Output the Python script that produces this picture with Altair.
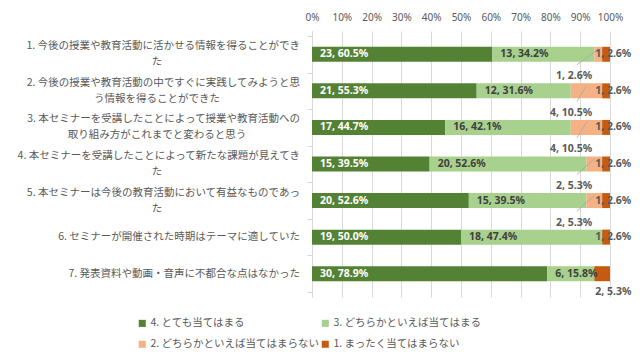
import altair as alt
import pandas as pd

# ---- data ----
cat_line1 = [
    "1. 今後の授業や教育活動に活かせる情報を得ることができ",
    "2. 今後の授業や教育活動の中ですぐに実践してみようと思",
    "3. 本セミナーを受講したことによって授業や教育活動への",
    "4. 本セミナーを受講したことによって新たな課題が見えてき",
    "5. 本セミナーは今後の教育活動において有益なものであっ",
    "6. セミナーが開催された時期はテーマに適していた",
    "7. 発表資料や動画・音声に不都合な点はなかった",
]
cat_line2 = ["た", "う情報を得ることができた", "取り組み方がこれまでと変わると思う", "た", "た", "", ""]

levels = ["4. とても当てはまる", "3. どちらかといえば当てはまる",
          "2. どちらかといえば当てはまらない", "1. まったく当てはまらない"]
colors = ["#548235", "#a9d18e", "#f4b183", "#c55a11"]

n4 = [23, 21, 17, 15, 20, 19, 30]
n3 = [13, 12, 16, 20, 15, 18, 6]
n2 = [1, 4, 4, 2, 2, 0, 0]
n1 = [1, 1, 1, 1, 1, 1, 2]

x_ticks = [0, 10, 20, 30, 40, 50, 60, 70, 80, 90, 100]

# ---- build tables ----
rows = []
for i in range(len(cat_line1)):
    counts = [n4[i], n3[i], n2[i], n1[i]]
    total = sum(counts)
    cum = 0.0
    for k, (lvl_name, n) in enumerate(zip(levels, counts)):
        pct = n / total * 100
        if k == 2:
            pos = "out2" if n > 0 else "none"
        elif k == 3:
            pos = "in1" if n < 2 else "out1"
        else:
            pos = "in"
        rows.append(dict(idx=i, level=lvl_name, lvl=4 - k, n=n, start=cum, end=cum + pct,
                         mid=cum + pct / 2, label=f"{n}, {pct:.1f}%", pos=pos))
        cum += pct
df = pd.DataFrame(rows)

lab = pd.DataFrame(dict(idx=list(range(len(cat_line1))), l1=cat_line1, l2=cat_line2))
lab["two"] = lab["l2"] != ""

FONT_JP = "Noto Sans CJK JP"
FONT_NUM = "Noto Sans"
GREY = "#595959"
JP_SIZE = 10.5

yscale = alt.Scale(domain=[-0.5, 6.5], reverse=True, nice=False, zero=False)
xscale = alt.Scale(domain=[0, 100], nice=False)

xaxis = alt.Axis(orient="top", values=x_ticks, labelExpr="datum.value + '%'",
                 domain=False, ticks=False, grid=True, gridColor="#d9d9d9",
                 labelColor=GREY, labelFont=FONT_NUM, labelFontSize=10,
                 labelPadding=9, labelOverlap=False, labelFlush=False, title=None)
yaxis = alt.Axis(values=[-0.5 + j for j in range(8)], labels=False, ticks=True,
                 tickSize=5, tickColor="#d9d9d9", domainColor="#d9d9d9",
                 grid=False, title=None)

def X(field):
    return alt.X(f"{field}:Q", scale=xscale, axis=xaxis)

def Y(field):
    return alt.Y(f"{field}:Q", scale=yscale, axis=yaxis)

base = alt.Chart(df)

bars = base.transform_filter("datum.n > 0").mark_bar(size=15).encode(
    x=X("start"),
    x2="end:Q",
    y=Y("idx"),
    color=alt.Color("level:N", scale=alt.Scale(domain=levels, range=colors),
                    legend=alt.Legend(title=None, orient="none", legendX=-175, legendY=287,
                                      columns=2, direction="horizontal",
                                      symbolType="square", symbolSize=50,
                                      symbolStrokeWidth=0, labelFont=FONT_JP,
                                      labelFontSize=JP_SIZE, labelColor=GREY, labelOffset=3,
                                      columnPadding=0, rowPadding=10, padding=0,
                                      labelLimit=400)),
)

leaders = base.transform_filter("datum.pos == 'out2'").transform_calculate(
    xl="datum.end - 8.5", xh="datum.mid", yl="datum.idx + 0.29", yh="datum.idx - 0.14"
).mark_rule(color="#a6a6a6", strokeWidth=0.8).encode(
    x=X("xl"), x2="xh:Q", y=Y("yl"), y2="yh:Q",
)

def txt(filt, color, field="start", **kw):
    return base.transform_filter(filt).mark_text(
        font=FONT_NUM, fontSize=10.5, fontWeight="bold", color=color, baseline="middle", **kw
    ).encode(x=X(field), y=Y("idx"), text="label:N")

t4 = txt("datum.lvl == 4", "white", align="left", dx=8)
t3 = txt("datum.lvl == 3", "#404040", align="left", dx=8)
t1in = txt("datum.pos == 'in1'", GREY, align="left", dx=-7)
t1out = txt("datum.pos == 'out1'", GREY, align="left", dx=1, dy=18)
t2out = txt("datum.pos == 'out2'", GREY, field="end", align="right", dx=-10, dy=22)

lbase = alt.Chart(lab)
lab_single = lbase.transform_filter("!datum.two").mark_text(
    font=FONT_JP, fontSize=JP_SIZE, color=GREY, align="right", baseline="middle"
).encode(x=alt.value(-12), y=Y("idx"), text="l1:N")
lab_l1 = lbase.transform_filter("datum.two").mark_text(
    font=FONT_JP, fontSize=JP_SIZE, color=GREY, align="right", baseline="middle", dy=-8
).encode(x=alt.value(-12), y=Y("idx"), text="l1:N")
lab_l2 = lbase.transform_filter("datum.two").mark_text(
    font=FONT_JP, fontSize=JP_SIZE, color=GREY, align="center", baseline="middle", dy=8
).encode(x=alt.value(-155), y=Y("idx"), text="l2:N")

chart = alt.layer(
    bars, leaders, t4, t3, t1in, t1out, t2out, lab_single, lab_l1, lab_l2
).properties(
    width=298, height=266,
    padding={"left": 304, "top": 23, "right": 22, "bottom": 57},
    autosize=alt.AutoSizeParams(type="none"),
    background="white",
).configure_view(stroke=None)

chart.save("out.html", embed_options={"renderer": "svg", "actions": False})
